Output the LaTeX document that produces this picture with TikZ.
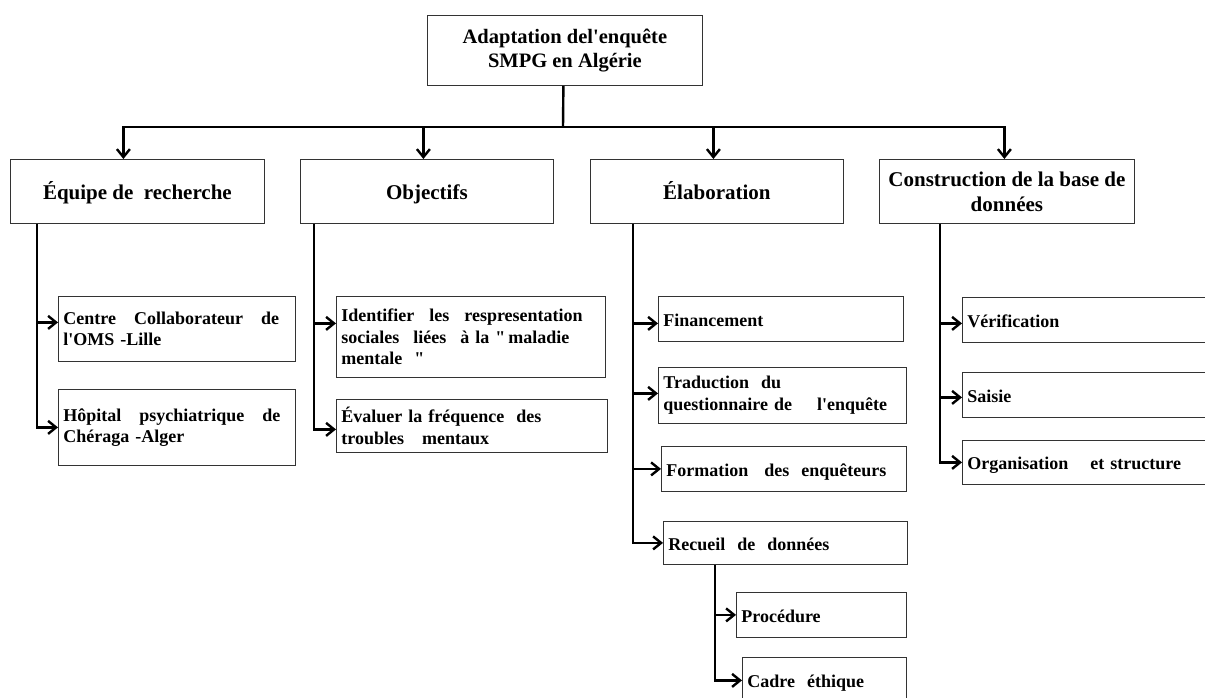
\documentclass[tikz,border=0pt]{standalone}
\usepackage{fontspec}
\setmainfont{Liberation Serif}[Ligatures=TeXOff]
\usepackage{tikz}
\usetikzlibrary{arrows.meta}

\begin{document}
\begin{tikzpicture}[x=1pt, y=-1pt,
        box/.style={rectangle, draw=black!80, line width=0.8pt, anchor=north west},
        head/.style={box, font=\fontsize{21}{25}\selectfont\bfseries, align=center, minimum height=64pt},
        oneline/.style={text height=19pt, text depth=4pt},
        leaf/.style={box, font=\fontsize{18}{21.5}\selectfont\bfseries, align=left, inner xsep=5pt, inner ysep=2pt},
        link/.style={line width=2.4pt},
        arrow/.style={link, -{Straight Barb[length=8pt, width=13pt, line width=2.4pt]}}
        ]

        \useasboundingbox (0,0) rectangle (1205,698);

        \node[box, font=\fontsize{20.5}{24}\selectfont\bfseries, align=center, minimum width=275pt, minimum height=70pt] (root) at (427,15) {Adaptation del'enquête\\SMPG en Algérie};

        \node[head, oneline, text height=20pt, minimum width=254pt] (equipe) at (10,159) {Équipe de~~recherche};
        \node[head, oneline, text height=20pt, minimum width=253pt] (objectifs) at (300,159) {Objectifs};
        \node[head, oneline, text height=20pt, minimum width=253pt] (elaboration) at (590,159) {Élaboration};
        \node[head, minimum width=255pt] (construction) at (879,159) {Construction de la base de\\données};

        \node[leaf, text width=227pt, minimum height=65pt] (centre) at (58,296) {Centre\quad Collaborateur\quad de\\l'OMS -Lille};
        \node[leaf, text width=227pt, minimum height=76pt] (hopital) at (58,389) {Hôpital\quad psychiatrique\quad de\\Chéraga -Alger};

        \node[leaf, text width=259pt, minimum height=81pt] (identifier) at (336,296) {Identifier\hspace{15pt}les\hspace{15pt}respresentation\\sociales\hspace{14pt}liées\hspace{14pt}à la "\,maladie\\mentale~~"};
        \node[leaf, text width=261pt, minimum height=53pt] (evaluer) at (336,399) {Évaluer la fréquence~~des\\troubles~~~mentaux};

        \node[leaf, oneline, text width=235pt, minimum height=45pt] (financement) at (658,296) {Financement};
        \node[leaf, text width=238pt, minimum height=56pt] (traduction) at (658,367) {Traduction~~du\\questionnaire de\hspace{25pt}l'enquête};
        \node[leaf, oneline, text width=235pt, minimum height=45pt] (formation) at (661,446) {Formation\hspace{16pt}des~~enquêteurs};
        \node[leaf, oneline, text width=234pt, minimum height=43pt] (recueil) at (663,521) {Recueil~~de~~données};
        \node[leaf, oneline, text width=160pt, minimum height=45pt] (procedure) at (736,592) {Procédure};
        \node[leaf, oneline, text width=154pt, minimum height=46pt] (cadre) at (742,657) {Cadre~~éthique};

        \node[leaf, oneline, text width=243pt, minimum height=45pt] (verification) at (962,297) {Vérification};
        \node[leaf, oneline, text width=243pt, minimum height=45pt] (saisie) at (962,372) {Saisie};
        \node[leaf, oneline, text width=243pt, minimum height=44pt] (organisation) at (962,440) {Organisation\hspace{22pt}et structure};

        \coordinate (bus) at (563,127);
        \draw[link] ([xshift=-1.5pt]root.south) -- (bus);
        \draw[arrow] (bus) -| ([xshift=-14pt]equipe.north);
        \draw[arrow] (bus) -| ([xshift=-3.5pt]objectifs.north);
        \draw[arrow] (bus) -| ([xshift=-3.5pt]elaboration.north);
        \draw[arrow] (bus) -| ([xshift=-2.5pt]construction.north);

        \draw[arrow] ([xshift=27pt]equipe.south west) |- ([yshift=6.5pt]centre.west);
        \draw[arrow] ([xshift=27pt]equipe.south west) |- (hopital.west);

        \draw[arrow] ([xshift=14pt]objectifs.south west) |- ([yshift=13.5pt]identifier.west);
        \draw[arrow] ([xshift=14pt]objectifs.south west) |- ([yshift=-3.5pt]evaluer.west);

        \draw[arrow] ([xshift=43pt]elaboration.south west) |- ([yshift=-4.5pt]financement.west);
        \draw[arrow] ([xshift=43pt]elaboration.south west) |- ([yshift=2pt]traduction.west);
        \draw[arrow] ([xshift=43pt]elaboration.south west) |- (formation.west);
        \draw[arrow] ([xshift=43pt]elaboration.south west) |- (recueil.west);

        \draw[arrow] ([xshift=52pt]recueil.south west) |- (procedure.west);
        \draw[arrow] ([xshift=52pt]recueil.south west) |- (cadre.west);

        \draw[arrow] ([xshift=61pt]construction.south west) |- ([yshift=-3.5pt]verification.west);
        \draw[arrow] ([xshift=61pt]construction.south west) |- ([yshift=-2.5pt]saisie.west);
        \draw[arrow] ([xshift=61pt]construction.south west) |- (organisation.west);

    \end{tikzpicture}
\end{document}
